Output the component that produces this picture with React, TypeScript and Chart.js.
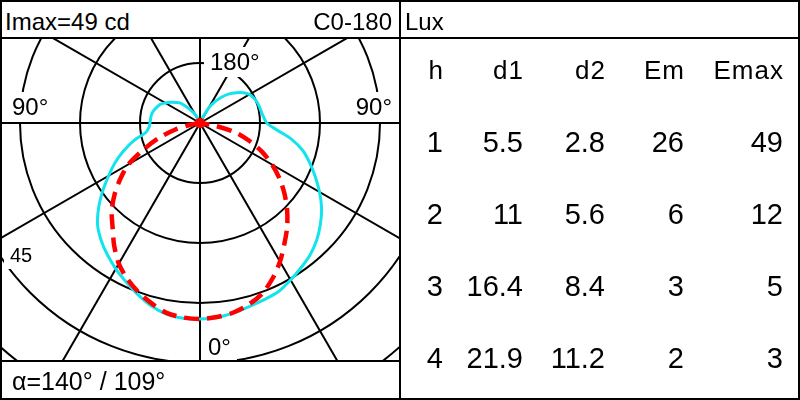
import { useEffect, useRef } from "react"
import { Chart, registerables } from "chart.js"

Chart.register(...registerables)

const FONT = "'Liberation Sans', Arial, Helvetica, sans-serif"

// photometric data, intensities in cd, gamma measured from nadir (0 = down)
const gammaAngles = [0, 5, 10, 15, 20, 25, 30, 35, 40, 45, 50, 55, 60, 65, 70, 75, 80, 85, 90, 95, 100, 105, 110, 115, 120, 125, 130, 135, 140, 145, 150, 155, 160]
const cyanC0 = [49.0, 48.8, 48.2, 47.5, 47.0, 46.5, 45.3, 44.1, 42.9, 41.3, 39.3, 37.1, 34.5, 31.8, 29.2, 26.6, 23.2, 19.2, 16.7, 16.0, 15.6, 15.4, 15.2, 14.8, 14.3, 13.2, 11.8, 10.3, 8.5, 6.5, 4.3, 1.5, 0]
const cyanC180 = [49.0, 49.0, 48.5, 47.3, 45.6, 43.8, 42.1, 40.3, 38.4, 36.2, 33.1, 29.7, 26.4, 23.4, 20.3, 17.2, 13.8, 12.8, 12.5, 12.4, 12.3, 12.0, 11.5, 11.0, 10.0, 9.0, 8.0, 7.1, 5.3, 3.7, 2.6, 1.3, 0]

const redAngles = [0, 5, 10, 15, 20, 25, 30, 35, 40, 45, 50, 55, 60, 65, 70, 75, 80, 85]
const redC90 = [49.0, 48.7, 48.1, 47.0, 45.4, 42.9, 40.0, 36.8, 33.9, 30.8, 27.6, 24.3, 20.8, 17.2, 13.2, 9.3, 3.5, 0]
const redC270 = [49.0, 48.8, 48.2, 46.7, 45.0, 43.0, 40.6, 37.4, 34.0, 31.2, 27.9, 24.3, 20.6, 15.4, 11.0, 6.5, 2.5, 0]

const ringValues = [15, 30, 45, 60, 75]
const spokeAngles = [0, 30, 60, 90, 120, 150, 180, 210, 240, 270, 300, 330]

const imax = 49
const planeLabel = "C0-180"
const beamAngles = [140, 109]

// table
const tableHeaders = ["h", "d1", "d2", "Em", "Emax"]
const heights = [1, 2, 3, 4]
const d1 = [5.5, 11, 16.4, 21.9]
const d2 = [2.8, 5.6, 8.4, 11.2]
const em = [26, 6, 3, 2]
const emax = [49, 12, 5, 3]

const toXY = (gamma: number, value: number, side: number) => {
  const rad = (gamma * Math.PI) / 180
  return { x: side * value * Math.sin(rad), y: -value * Math.cos(rad) }
}

const curve = (angles: number[], left: number[], right: number[]) => {
  const l = angles.map((g, i) => toXY(g, left[i], -1)).reverse()
  const r = angles.map((g, i) => toXY(g, right[i], 1)).slice(1)
  return [...l, ...r]
}

const polarGrid = {
  id: "polarGrid",
  beforeDatasetsDraw(chart: any) {
    const { ctx, chartArea, scales } = chart
    const cx = scales.x.getPixelForValue(0)
    const cy = scales.y.getPixelForValue(0)
    const unit = scales.x.getPixelForValue(1) - cx
    ctx.save()
    ctx.beginPath()
    ctx.rect(chartArea.left, chartArea.top, chartArea.right - chartArea.left, chartArea.bottom - chartArea.top)
    ctx.clip()
    ctx.strokeStyle = "#000"
    ctx.lineWidth = 2
    ringValues.forEach((r) => {
      ctx.beginPath()
      ctx.arc(cx, cy, r * unit, 0, Math.PI * 2)
      ctx.stroke()
    })
    const far = 1000
    spokeAngles.forEach((a) => {
      const rad = (a * Math.PI) / 180
      ctx.beginPath()
      ctx.moveTo(cx, cy)
      ctx.lineTo(cx + far * Math.sin(rad), cy + far * Math.cos(rad))
      ctx.stroke()
    })

    // angle labels with white backgrounds
    const label = (text: string, x: number, baseline: number, size: number, align: "left" | "right") => {
      ctx.font = `${size}px ${FONT}`
      const w = ctx.measureText(text).width
      const left = align === "left" ? x : x - w
      ctx.fillStyle = "#fff"
      ctx.fillRect(left - 6, baseline - size + 1, w + 12, size + 6)
      ctx.fillStyle = "#000"
      ctx.textBaseline = "alphabetic"
      ctx.textAlign = "left"
      ctx.fillText(text, left, baseline)
    }
    label("180°", cx + 10, cy - ringValues[0] * unit + 7, 24, "left")
    label("90°", chartArea.left + 10, cy - 8, 24, "left")
    label("90°", chartArea.right - 7, cy - 8, 24, "right")
    label("45", chartArea.left + 8, cy + 139, 20, "left")
    label("0°", cx + 8, chartArea.bottom - 5, 24, "left")
    ctx.restore()
  },
}

export default function App() {
  const canvasRef = useRef<HTMLCanvasElement>(null)
  const chartInstance = useRef<Chart | null>(null)

  useEffect(() => {
    if (!canvasRef.current) return
    if (chartInstance.current) chartInstance.current.destroy()
    const ctx = canvasRef.current.getContext("2d")
    if (!ctx) return

    chartInstance.current = new Chart(ctx, {
      type: "scatter",
      data: {
        datasets: [
          {
            label: "C90-270",
            data: curve(redAngles, redC270, redC90),
            showLine: true,
            borderColor: "#ff0000",
            backgroundColor: "#ff0000",
            borderWidth: 4.5,
            borderDash: [15, 8],
            tension: 0.3,
            pointRadius: (c: any) => (c.raw && c.raw.x === 0 && Math.abs(c.raw.y) < 0.01 ? 5 : 0),
            pointBorderWidth: 0,
            order: 0,
          },
          {
            label: "C0-180",
            data: curve(gammaAngles, cyanC180, cyanC0),
            showLine: true,
            borderColor: "#12e4ee",
            borderWidth: 3,
            tension: 0.3,
            pointRadius: 0,
            order: 1,
          },
        ],
      },
      options: {
        responsive: false,
        animation: false,
        events: [],
        layout: { padding: 0, autoPadding: false },
        plugins: {
          legend: { display: false },
          tooltip: { enabled: false },
        },
        scales: {
          x: { type: "linear", min: -49.5, max: 49.75, display: false },
          y: { type: "linear", min: -59.25, max: 21, display: false },
        },
      },
      plugins: [polarGrid],
    })

    return () => {
      if (chartInstance.current) {
        chartInstance.current.destroy()
        chartInstance.current = null
      }
    }
  }, [])

  const colRight = [443, 523, 605, 684, 783]
  const rows = heights.map((h, i) => [h, d1[i], d2[i], em[i], emax[i]])

  const line = (left: number, top: number, width: number, height: number) => (
    <div style={{ position: "absolute", left, top, width, height, background: "#000" }} />
  )

  return (
    <div
      style={{
        position: "absolute",
        left: 0,
        top: 0,
        width: 800,
        height: 400,
        background: "#fff",
        color: "#000",
        fontFamily: FONT,
        lineHeight: 1,
        overflow: "hidden",
      }}
    >
      <canvas
        ref={canvasRef}
        width={397}
        height={321}
        style={{ position: "absolute", left: 2, top: 39, width: 397, height: 321 }}
      />

      <div style={{ position: "absolute", left: 5, top: 10, fontSize: 24 }}>Imax={imax} cd</div>
      <div style={{ position: "absolute", left: 0, width: 392, top: 10, fontSize: 24, textAlign: "right" }}>
        {planeLabel}
      </div>
      <div style={{ position: "absolute", left: 405, top: 10, fontSize: 24 }}>Lux</div>

      {tableHeaders.map((t, j) => (
        <div
          key={t}
          style={{
            position: "absolute",
            left: 0,
            width: colRight[j] + 1,
            top: 57,
            fontSize: 26,
            letterSpacing: 1,
            textAlign: "right",
            whiteSpace: "nowrap",
          }}
        >
          {t}
        </div>
      ))}
      {rows.map((row, i) =>
        row.map((v, j) => (
          <div
            key={`${i}-${j}`}
            style={{
              position: "absolute",
              left: 0,
              width: colRight[j],
              top: 128 + i * 72,
              fontSize: 29,
              textAlign: "right",
              whiteSpace: "nowrap",
            }}
          >
            {String(v)}
          </div>
        ))
      )}

      <div style={{ position: "absolute", left: 12, top: 369, fontSize: 25, whiteSpace: "nowrap" }}>
        α={beamAngles[0]}° / {beamAngles[1]}°
      </div>

      {line(0, 37, 800, 2)}
      {line(399, 0, 2, 400)}
      {line(0, 360, 400, 2)}
      <div
        style={{
          position: "absolute",
          left: 0,
          top: 0,
          width: 800,
          height: 400,
          border: "2px solid #000",
          boxSizing: "border-box",
        }}
      />
    </div>
  )
}
